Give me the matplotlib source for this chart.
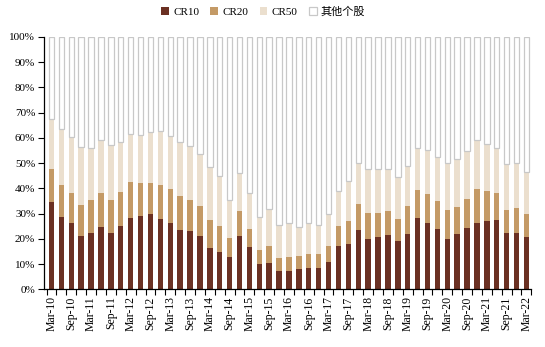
import numpy as np
import matplotlib.pyplot as plt
from matplotlib.patches import Patch

# quarterly dates Mar-10 .. Mar-22
months = ['Mar', 'Jun', 'Sep', 'Dec']
quarters = [f"{m}-{y:02d}" for y in range(10, 23) for m in months][:49]

# cumulative concentration shares (%)
cr10 = [34.4, 28.8, 26.3, 21.1, 22.3, 24.7, 22.2, 25.2, 28.1, 28.9,
        29.8, 27.7, 26.1, 23.4, 23.0, 21.1, 16.2, 15.0, 12.7, 21.1,
        16.6, 10.0, 10.4, 7.3, 7.1, 7.9, 8.4, 8.4, 11.0, 17.0,
        17.9, 23.5, 19.8, 20.7, 21.4, 19.1, 21.9, 28.1, 26.4, 23.9,
        19.9, 21.9, 24.3, 26.4, 27.2, 27.4, 22.3, 22.3, 20.7]
cr20 = [47.8, 41.3, 38.1, 33.4, 35.4, 38.1, 35.4, 38.5, 42.5, 42.1,
        42.1, 41.2, 39.6, 36.8, 35.4, 33.2, 27.3, 25.1, 20.2, 31.1,
        24.0, 15.7, 17.2, 12.5, 12.9, 13.2, 14.0, 14.0, 17.2, 25.1,
        27.0, 33.9, 30.2, 30.2, 31.0, 28.0, 33.1, 39.3, 37.7, 35.0,
        31.3, 32.7, 35.9, 39.6, 38.9, 38.1, 31.5, 32.2, 29.7]
cr50 = [67.4, 63.3, 60.4, 56.5, 56.1, 59.2, 57.3, 58.4, 61.6, 61.2,
        62.4, 62.7, 60.7, 58.4, 56.9, 53.7, 48.3, 45.0, 35.5, 46.2,
        38.3, 28.8, 31.9, 25.3, 26.1, 24.8, 26.1, 25.3, 30.0, 39.1,
        43.0, 50.1, 47.5, 47.5, 47.5, 44.6, 48.9, 56.1, 55.0, 52.5,
        49.9, 51.7, 54.9, 59.2, 57.7, 55.8, 49.7, 50.1, 46.6]

labels = ['CR10', 'CR20', 'CR50', '其他个股']
colors = ['#6B3022', '#C49A66', '#EBDFCE', '#FFFFFF']
edge_grey = '#C8C8C8'

plt.rcParams['font.family'] = ['Liberation Serif', 'Noto Sans CJK SC']

c10 = np.array(cr10) / 100
c20 = np.array(cr20) / 100
c50 = np.array(cr50) / 100
x = np.arange(len(quarters))

fig = plt.figure(figsize=(5.45, 3.47), dpi=100)
ax = fig.add_axes([0.08, 0.166, 0.895, 0.728])

w = 0.55
ax.bar(x, c10, width=w, color=colors[0], linewidth=0)
ax.bar(x, c20 - c10, bottom=c10, width=w, color=colors[1], linewidth=0)
ax.bar(x, c50 - c20, bottom=c20, width=w, color=colors[2], linewidth=0)
ax.bar(x, 1 - c50, bottom=c50, width=w, color=colors[3],
       edgecolor=edge_grey, linewidth=0.9)

ax.set_ylim(0, 1)
ax.set_xlim(-0.8, len(quarters) - 0.55)
ax.set_yticks(np.arange(0, 1.01, 0.1))
ax.set_yticklabels([f"{int(round(v * 100))}%" for v in np.arange(0, 1.01, 0.1)],
                   fontsize=8)
ax.tick_params(axis='y', direction='out', length=4, width=0.8, pad=2)

# labels every other quarter, tick marks at category boundaries
ax.set_xticks(x[::2])
ax.set_xticklabels(quarters[::2], rotation=90, fontsize=8.5)
ax.tick_params(axis='x', which='major', length=0, pad=5)
ax.set_xticks(np.arange(-0.5, len(quarters), 1), minor=True)
ax.tick_params(axis='x', which='minor', direction='out', length=4, width=0.8)

for s in ['top', 'right']:
    ax.spines[s].set_visible(False)
for s in ['left', 'bottom']:
    ax.spines[s].set_linewidth(0.9)
    ax.spines[s].set_color('black')

handles = [Patch(facecolor=colors[0]), Patch(facecolor=colors[1]),
           Patch(facecolor=colors[2]),
           Patch(facecolor=colors[3], edgecolor=edge_grey, linewidth=0.9)]
fig.legend(handles, labels, loc='upper center', bbox_to_anchor=(0.483, 1.01),
           ncol=4, frameon=False, fontsize=8, handlelength=0.7,
           handleheight=0.7, handletextpad=0.4, columnspacing=1.0)

fig.savefig('out.png', dpi=100)
